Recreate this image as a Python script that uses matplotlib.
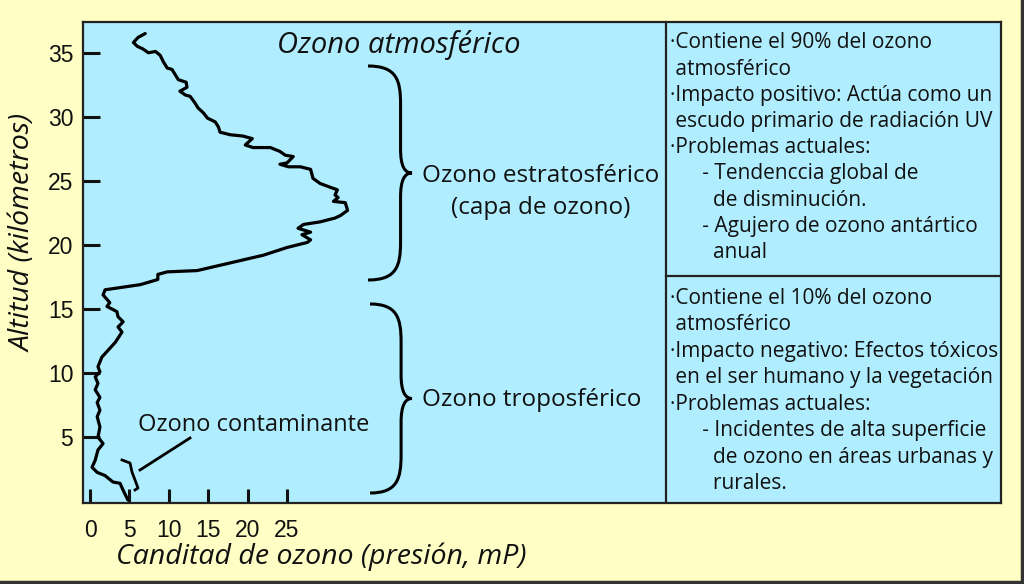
import matplotlib.pyplot as plt
from matplotlib.path import Path
from matplotlib.patches import PathPatch

# ozone profile: amount (mP) vs altitude (km)
ozone = [7.0, 6.1, 5.5, 6.0, 6.7, 7.4, 8.3, 8.9, 9.3, 9.8, 10.4, 10.8, 11.2,
         12.2, 12.3, 11.4, 12.1, 12.7, 13.3, 13.7, 14.4, 14.9, 15.9, 16.3,
         16.5, 17.8, 19.4, 20.6, 19.7, 20.7, 22.9, 24.1, 24.8, 25.8, 25.0,
         24.1, 25.2, 26.7, 28.0, 28.3, 29.2, 30.5, 31.4, 31.1, 31.5, 30.9,
         32.4, 32.7, 31.8, 31.1, 29.2, 27.1, 26.4, 28.0, 26.9, 28.0, 27.6,
         25.0, 22.0, 17.8, 13.6, 9.8, 8.6, 8.6,
         6.35, 1.9, 1.65, 2.5, 2.15, 3.4, 3.55, 4.2, 3.55, 4.05, 3.2, 1.5,
         1.0, 1.25, 0.65, 1.0, 0.65, 1.25, 0.9, 1.25, 0.9, 1.25, 1.0, 1.65,
         1.0, 0.65, 0.25, 0.9, 1.9, 2.9, 3.8, 4.2, 4.8]
altitude = [36.5, 36.2, 35.8, 35.5, 35.3, 35.0, 35.1, 34.8, 34.3, 33.8, 33.7,
            33.3, 32.9, 32.7, 32.3, 32.0, 31.7, 31.6, 31.1, 30.7, 30.3, 29.9,
            29.6, 29.2, 28.8, 28.6, 28.5, 28.3, 27.8, 27.6, 27.6, 27.3, 27.0,
            26.9, 26.4, 26.3, 26.1, 26.1, 25.9, 25.2, 24.8, 24.5, 24.3, 23.9,
            23.7, 23.4, 23.3, 22.7, 22.3, 22.1, 21.8, 21.6, 21.3, 21.0, 20.8,
            20.4, 20.2, 19.8, 19.2, 18.6, 18.0, 17.9, 17.7, 17.3,
            16.9, 16.5, 16.1, 15.5, 15.2, 14.8, 14.4, 14.0, 13.6, 13.2, 12.4,
            11.25, 10.5, 10.1, 9.7, 9.2, 8.7, 8.1, 7.7, 7.1, 6.6, 5.8, 5.0,
            4.5, 4.0, 3.2, 2.65, 2.25, 2.0, 1.5, 1.4, 0.85, 0.1]

x_ticks = [0, 5, 10, 15, 20, 25]
y_ticks = [5, 10, 15, 20, 25, 30, 35]

strato_notes = ['·Contiene el 90% del ozono', ' atmosférico',
                '·Impacto positivo: Actúa como un',
                ' escudo primario de radiación UV', '·Problemas actuales:',
                '      - Tendenccia global de', '        de disminución.',
                '      - Agujero de ozono antártico', '        anual']
tropo_notes = ['·Contiene el 10% del ozono', ' atmosférico',
               '·Impacto negativo: Efectos tóxicos',
               ' en el ser humano y la vegetación', '·Problemas actuales:',
               '      - Incidentes de alta superficie',
               '        de ozono en áreas urbanas y', '        rurales.']

blue = '#B0EDFE'
yellow = '#FFFEC4'
ink = '#111111'
txt_font = 'Open Sans'

fig = plt.figure(figsize=(10.24, 5.84), dpi=100, facecolor=yellow)

# main panel (pixel box 83..1000 x 22..502)
W, H = 1024, 584
ax = fig.add_axes([83 / W, (H - 502.5) / H, 917.5 / W, 480.5 / H])
ax.set_facecolor(blue)
ax.plot(ozone, altitude, color='black', linewidth=2.3, solid_capstyle='round',
        solid_joinstyle='round')
ax.set_xlim(-0.9, 115.6)
ax.set_ylim(-0.1, 37.4)
ax.set_xticks(x_ticks)
ax.set_yticks(y_ticks)
ax.tick_params(axis='y', direction='in', length=12.5, width=2.2, pad=7,
               labelsize=16.5, colors=ink)
ax.tick_params(axis='x', direction='in', length=10, width=2.2, pad=12,
               labelsize=16.5, colors=ink)
for lab in ax.get_xticklabels() + ax.get_yticklabels():
    lab.set_fontfamily('Liberation Sans')
for s in ax.spines.values():
    s.set_linewidth(1.6)
    s.set_color('#222222')

# overlay in pixel coordinates for braces, labels and the note columns
ov = fig.add_axes([0, 0, 1, 1], facecolor='none')
ov.set_xlim(0, W)
ov.set_ylim(H, 0)
ov.axis('off')


def brace(x0, y0, y1, xt):
    ym = (y0 + y1) / 2
    xb = x0 + 0.74 * (xt - x0)
    verts = [(x0, y0), (xb - 4, y0), (xb, y0 + 14), (xb, y0 + 38),
             (xb, ym - 24), (xb, ym - 7), (xb + 4, ym), (xt, ym),
             (xb + 4, ym), (xb, ym + 7), (xb, ym + 24),
             (xb, y1 - 38), (xb, y1 - 14), (xb - 4, y1), (x0, y1)]
    codes = [Path.MOVETO, Path.CURVE4, Path.CURVE4, Path.CURVE4,
             Path.LINETO, Path.CURVE4, Path.CURVE4, Path.CURVE4,
             Path.CURVE4, Path.CURVE4, Path.CURVE4,
             Path.LINETO, Path.CURVE4, Path.CURVE4, Path.CURVE4]
    ov.add_patch(PathPatch(Path(verts, codes), facecolor='none',
                           edgecolor='black', linewidth=2.2))


brace(368, 66, 280, 412)
brace(370, 304, 493, 412)

# small bracket + leader for polluting ozone
ov.plot([122, 130, 132, 135, 138, 135], [460, 463, 472, 480, 488, 490],
        color='black', linewidth=2)
ov.plot([140, 190], [470, 438], color='black', linewidth=2)

ov.text(399, 45, 'Ozono atmosférico', fontsize=21, style='italic',
        family=txt_font, ha='center', va='center', color=ink)
ov.text(422, 176, 'Ozono estratosférico', fontsize=17.5, family=txt_font,
        ha='left', va='center', color=ink)
ov.text(541, 208, '(capa de ozono)', fontsize=17.5, family=txt_font,
        ha='center', va='center', color=ink)
ov.text(422, 400, 'Ozono troposférico', fontsize=17.5, family=txt_font,
        ha='left', va='center', color=ink)
ov.text(138, 425, 'Ozono contaminante', fontsize=17, family=txt_font,
        ha='left', va='center', color=ink)
ov.text(24, 233, 'Altitud (kilómetros)', fontsize=20.5, style='italic',
        family=txt_font, rotation=90, ha='center', va='center', color=ink)
ov.text(321, 557, 'Canditad de ozono (presión, mP)', fontsize=20.5,
        style='italic', family=txt_font, ha='center', va='center', color=ink)

# dividers of the notes column
ov.plot([666, 666], [22, 502], color='#222222', linewidth=1.6)
ov.plot([666, 1000], [276, 276], color='#222222', linewidth=1.6)

for i, line in enumerate(strato_notes):
    ov.text(670, 43 + i * 26.2, line, fontsize=15, family=txt_font,
            ha='left', va='center', color=ink)
for i, line in enumerate(tropo_notes):
    ov.text(670, 298 + i * 26.5, line, fontsize=15, family=txt_font,
            ha='left', va='center', color=ink)

# shadow-like frame on right and bottom
ov.plot([1022, 1022], [0, 583], color='#333333', linewidth=2.5)
ov.plot([0, 1022], [582, 582], color='#333333', linewidth=2.5)

fig.savefig('out.png', dpi=100, facecolor=yellow)
